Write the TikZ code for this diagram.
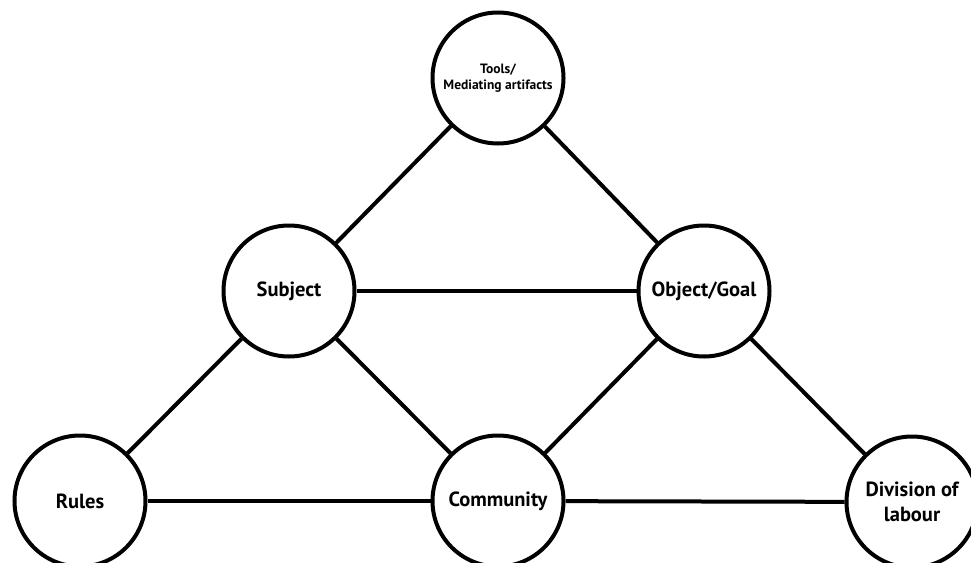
\documentclass[tikz,border=0pt]{standalone}
\usepackage{fontspec}
\setmainfont{PT Sans}
\begin{document}
\begin{tikzpicture}[x=1pt,y=-1pt,
  ent/.style={circle,draw=black,line width=4pt,fill=white,minimum size=131pt,inner sep=0pt,align=center,font=\bfseries\fontsize{20.5}{25}\selectfont},
  link/.style={line width=4pt,draw=black}]
\useasboundingbox (0,0) rectangle (971,562);
\node[ent,font=\bfseries\fontsize{13.5}{16}\selectfont] (tools) at (498,78) {Tools/\\Mediating artifacts};
\node[ent] (subj) at (289,291) {Subject};
\node[ent] (obj) at (704,291) {Object/Goal};
\node[ent] (rules) at (80,501) {Rules};
\node[ent] (comm) at (498,501) {Community};
\node[ent] (div) at (912,502) {Division of\\labour};
\draw[link] (tools) -- (subj);
\draw[link] (tools) -- (obj);
\draw[link] (subj) -- (obj);
\draw[link] (subj) -- (rules);
\draw[link] (subj) -- (comm);
\draw[link] (obj) -- (comm);
\draw[link] (obj) -- (div);
\draw[link] (rules) -- (comm);
\draw[link] (comm) -- (div);
\end{tikzpicture}
\end{document}
